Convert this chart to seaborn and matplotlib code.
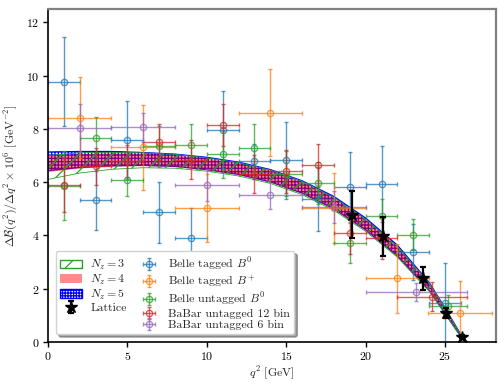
import numpy as np
import matplotlib
matplotlib.use("Agg")
import matplotlib.pyplot as plt
import seaborn as sns
from matplotlib.patches import Patch
from matplotlib.lines import Line2D

# ---------------- data ----------------
# Belle tagged B0
belle_t0_x = [1, 3, 5, 7, 9, 11, 13, 15, 17, 19, 21, 23, 25]
belle_t0_xerr = [1, 1, 1, 1, 1, 1, 1, 1, 1, 1, 1, 1, 1]
belle_t0_y = [9.77, 5.31, 7.57, 4.86, 3.91, 7.97, 6.78, 6.82, 5.36, 5.82, 5.93, 3.37, 1.45]
belle_t0_yerr = [1.68, 1.1, 1.46, 1.16, 1.12, 1.45, 0.65, 1.44, 1.2, 1.3, 1.41, 1.04, 1.5]

# Belle tagged B+
belle_tp_x = [2, 6, 10, 14, 18, 22, 25.95]
belle_tp_xerr = [2, 2, 2, 2, 2, 2, 2]
belle_tp_y = [8.42, 7.3, 5.03, 8.61, 5.03, 2.39, 1.08]
belle_tp_yerr = [1.53, 1.61, 1.26, 1.63, 1.3, 1.3, 1.2]

# Belle untagged B0
belle_u_x = [1, 3, 5, 7, 9, 11, 13, 15, 17, 19, 21, 23, 25.2]
belle_u_xerr = [1, 1, 1, 1, 1, 1, 1, 1, 1, 1, 1, 1, 1.2]
belle_u_y = [5.87, 7.66, 6.09, 7.34, 7.38, 7.04, 7.28, 6.32, 5.96, 3.71, 4.74, 4.02, 1.35]
belle_u_yerr = [1.28, 0.8, 0.63, 0.78, 0.8, 0.89, 0.9, 0.83, 0.8, 0.75, 0.63, 0.58, 0.4]

# BaBar untagged 12 bin
babar12_x = [1, 3, 5, 7, 9, 11, 13, 15, 17, 19, 21, 24.2]
babar12_xerr = [1, 1, 1, 1, 1, 1, 1, 1, 1, 1, 1, 2.2]
babar12_y = [5.89, 6.59, 6.78, 7.5, 6.84, 8.15, 6.3, 6.4, 6.63, 4.09, 3.9, 1.7]
babar12_yerr = [1.0, 0.7, 0.6, 0.67, 0.73, 0.8, 0.7, 0.8, 0.8, 0.8, 0.8, 0.55]

# BaBar untagged 6 bin
babar6_x = [2, 6, 10, 14, 18, 23.2]
babar6_xerr = [2, 2, 2, 2, 2, 3.2]
babar6_y = [8.03, 8.06, 5.9, 5.53, 5.05, 1.87]
babar6_yerr = [0.9, 0.55, 0.6, 0.55, 0.6, 0.35]

# Lattice
lat_x = [19.12, 21.07, 23.6, 25.06, 26.09]
lat_y = [4.77, 3.96, 2.39, 1.08, 0.2]
lat_yerr = [0.88, 0.74, 0.44, 0.2, 0.07]

# fit bands (centre, half width) on a q^2 grid
band_q = [0, 2, 4, 6, 8, 10, 12, 14, 16, 18, 20, 22, 24, 25, 26, 26.4]
nz3_c = [6.55, 6.72, 6.8, 6.82, 6.78, 6.66, 6.48, 6.2, 5.78, 5.18, 4.38, 3.38, 2.05, 1.15, 0.22, 0.0]
nz3_w = [0.45, 0.38, 0.32, 0.28, 0.26, 0.25, 0.25, 0.25, 0.25, 0.24, 0.23, 0.2, 0.15, 0.1, 0.04, 0.0]
nz4_c = [6.7, 6.8, 6.85, 6.85, 6.8, 6.68, 6.5, 6.22, 5.8, 5.2, 4.4, 3.4, 2.05, 1.15, 0.22, 0.0]
nz4_w = [0.3, 0.27, 0.25, 0.23, 0.22, 0.22, 0.22, 0.22, 0.22, 0.22, 0.21, 0.19, 0.14, 0.09, 0.03, 0.0]
nz5_c = [6.78, 6.85, 6.88, 6.87, 6.82, 6.7, 6.52, 6.24, 5.82, 5.23, 4.43, 3.43, 2.08, 1.17, 0.23, 0.0]
nz5_w = [0.35, 0.3, 0.27, 0.24, 0.23, 0.23, 0.23, 0.23, 0.23, 0.23, 0.22, 0.2, 0.15, 0.1, 0.04, 0.0]

# ---------------- style ----------------
sns.set_style("ticks")
pal = sns.color_palette("tab10")
plt.rcParams["font.family"] = "serif"
plt.rcParams["font.serif"] = ["cmr10", "DejaVu Serif"]
plt.rcParams["mathtext.fontset"] = "cm"
plt.rcParams["axes.formatter.use_mathtext"] = True
plt.rcParams["font.size"] = 8.6
plt.rcParams["hatch.linewidth"] = 0.9

fig = plt.figure(figsize=(5.04, 3.89), dpi=100)
ax = fig.add_axes([0.095, 0.121, 0.889, 0.856])

q = np.array(band_q)

# bands
ax.fill_between(q, np.array(nz5_c) - nz5_w, np.array(nz5_c) + nz5_w,
                facecolor="none", edgecolor="blue", hatch="+++++", linewidth=0.9)
ax.fill_between(q, np.array(nz4_c) - nz4_w, np.array(nz4_c) + nz4_w,
                facecolor="red", alpha=0.5, linewidth=0)
ax.fill_between(q, np.array(nz3_c) - nz3_w, np.array(nz3_c) + nz3_w,
                facecolor="none", edgecolor="tab:green", hatch="//", linewidth=0.6)

# experimental data
datasets = [
    (belle_t0_x, belle_t0_y, belle_t0_xerr, belle_t0_yerr, pal[0], r"Belle tagged $B^0$"),
    (belle_tp_x, belle_tp_y, belle_tp_xerr, belle_tp_yerr, pal[1], r"Belle tagged $B^+$"),
    (belle_u_x, belle_u_y, belle_u_xerr, belle_u_yerr, pal[2], r"Belle untagged $B^0$"),
    (babar12_x, babar12_y, babar12_xerr, babar12_yerr, pal[3], "BaBar untagged 12 bin"),
    (babar6_x, babar6_y, babar6_xerr, babar6_yerr, pal[4], "BaBar untagged 6 bin"),
]
handles_exp = []
for x, y, xe, ye, col, lab in datasets:
    h = ax.errorbar(x, y, xerr=xe, yerr=ye, fmt="o", color=col, mfc="none",
                    ms=4.5, mew=1.0, elinewidth=1.0, capsize=1.5, alpha=0.75,
                    label=lab)
    handles_exp.append(h)

# lattice points
h_lat = ax.errorbar(lat_x, lat_y, yerr=lat_yerr, fmt="*", color="black", ms=9,
                    elinewidth=1.6, capsize=2.5, capthick=1.6, label="Lattice", zorder=5)

ax.set_xlim(0, 28.2)
ax.set_ylim(0, 12.5)
ax.set_xticks([0, 5, 10, 15, 20, 25])
ax.set_yticks([0, 2, 4, 6, 8, 10, 12])
ax.set_xlabel(r"$q^2$ [GeV]", labelpad=2)
ax.set_ylabel(r"$\Delta\mathcal{B}(q^2)/\Delta q^2\times10^6$ [GeV$^{-2}$]", labelpad=4)
ax.tick_params(direction="out", length=3.5, width=1.0, colors="black", pad=2.5)

for s in ["left", "bottom"]:
    ax.spines[s].set_color("black")
    ax.spines[s].set_linewidth(1.2)
for s in ["top", "right"]:
    ax.spines[s].set_color("gray")
    ax.spines[s].set_linewidth(1.6)

# legend
h3 = Patch(facecolor="white", edgecolor="tab:green", hatch="//", label=r"$N_z=3$")
h4 = Patch(facecolor="red", alpha=0.45, edgecolor="none", label=r"$N_z=4$")
h5 = Patch(facecolor="white", edgecolor="blue", hatch="++++++", label=r"$N_z=5$")
blank = Line2D([], [], linestyle="none", label=" ")
handles = [h3, h4, h5, h_lat, blank] + handles_exp
labels = [h.get_label() for h in handles]
leg = ax.legend(handles, labels, ncol=2, loc="lower left", bbox_to_anchor=(0.005, 0.005),
                shadow=True, frameon=True, framealpha=1, edgecolor="lightgray",
                fontsize=8.6, handlelength=1.8, handletextpad=0.7, columnspacing=1.0,
                labelspacing=0.08, borderpad=0.35)

fig.savefig("out.png", dpi=100)
